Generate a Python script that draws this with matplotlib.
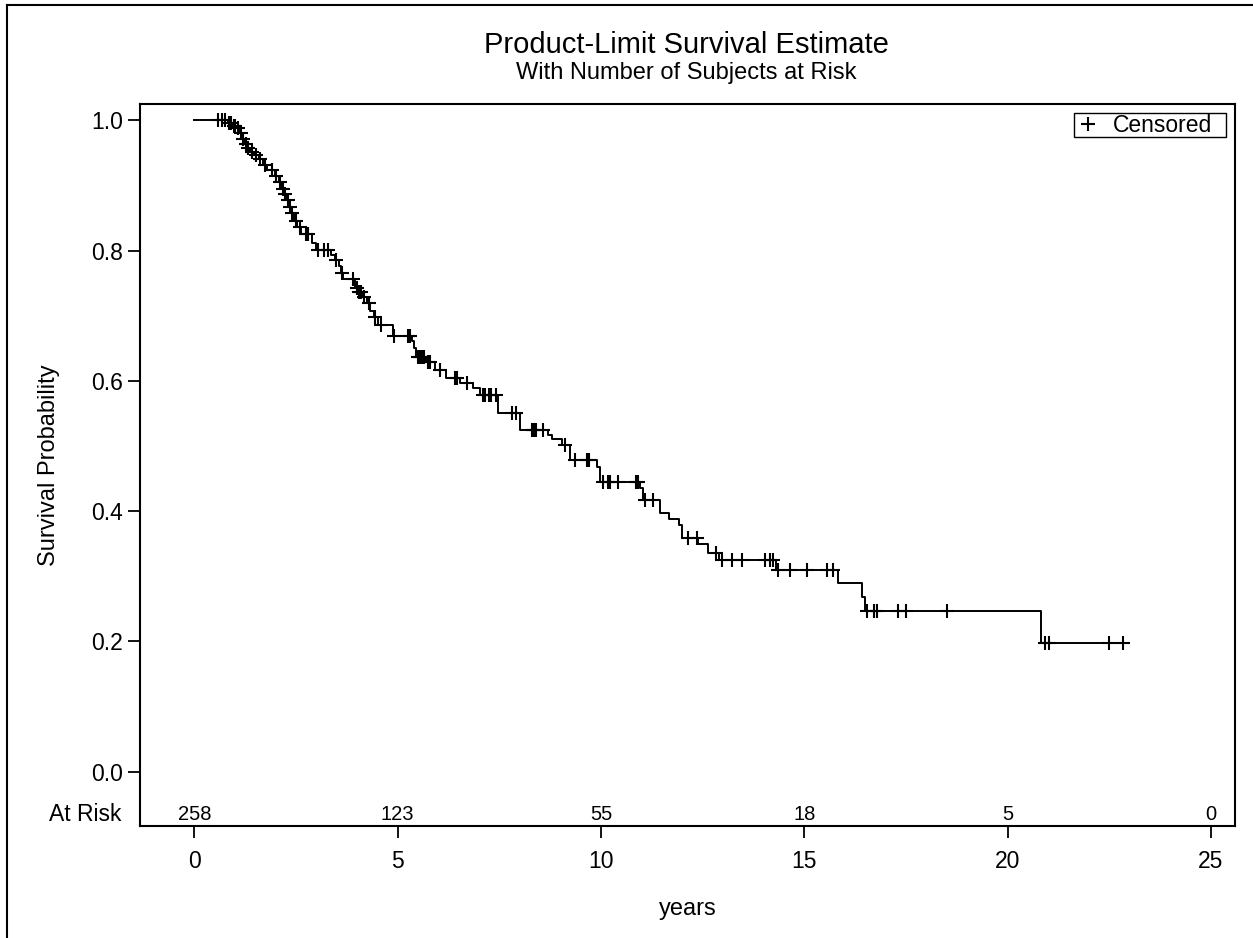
import numpy as np
import matplotlib
matplotlib.use("Agg")
import matplotlib.pyplot as plt
from matplotlib.lines import Line2D
from matplotlib.patches import Rectangle

plt.rcParams['font.family'] = ['Liberation Sans', 'DejaVu Sans']

# ---- data ----
step_times = [0.82, 0.93, 1.03, 1.12, 1.18, 1.24, 1.3, 1.38, 1.48, 1.58, 1.68, 1.8,
              1.98, 2.08, 2.14, 2.2, 2.27, 2.33, 2.38, 2.44, 2.53, 2.63, 2.9, 3.0,
              3.35, 3.45, 3.55, 3.6, 3.66, 3.95, 4.02, 4.12, 4.25, 4.32, 4.42, 4.52,
              4.88, 5.35, 5.4, 5.45, 5.7, 5.92, 6.2, 6.53, 6.86, 7.03, 7.47, 8.0,
              8.7, 8.8, 9.04, 9.24, 9.9, 9.97, 10.96, 11.04, 11.45, 11.67, 11.92,
              11.99, 12.39, 12.63, 12.9, 14.3, 15.82, 16.41, 16.5, 20.82]
step_surv = [0.996, 0.992, 0.988, 0.98, 0.972, 0.964, 0.958, 0.952, 0.946, 0.94, 0.932, 0.924,
             0.914, 0.905, 0.895, 0.887, 0.878, 0.867, 0.857, 0.846, 0.836, 0.826, 0.812, 0.801,
             0.793, 0.785, 0.776, 0.766, 0.756, 0.743, 0.736, 0.728, 0.719, 0.708, 0.698, 0.686,
             0.669, 0.661, 0.651, 0.637, 0.629, 0.617, 0.604, 0.596, 0.589, 0.578, 0.55, 0.525,
             0.517, 0.51, 0.501, 0.478, 0.468, 0.445, 0.435, 0.417, 0.397, 0.388, 0.379,
             0.358, 0.35, 0.336, 0.325, 0.31, 0.29, 0.268, 0.247, 0.198]
censor_times = [0.58, 0.68, 0.76, 0.86, 0.9, 0.97, 1.0, 1.08, 1.15, 1.2, 1.27, 1.33, 1.42,
                1.52, 1.62, 1.75, 1.9, 2.02, 2.1, 2.17, 2.24, 2.3, 2.36, 2.41, 2.5, 2.6,
                2.75, 2.8, 3.05, 3.2, 3.3, 3.48, 3.62, 3.9, 4.0, 4.05, 4.1, 4.18, 4.3,
                4.45, 4.6, 4.92, 5.25, 5.3, 5.5, 5.55, 5.6, 5.65, 5.75, 5.8, 6.05, 6.4,
                6.45, 6.7, 7.1, 7.15, 7.25, 7.3, 7.42, 7.8, 7.9, 8.3, 8.35, 8.4, 8.57,
                9.12, 9.36, 9.66, 9.7, 10.06, 10.18, 10.22, 10.42, 10.86, 10.9, 11.08,
                11.28, 12.14, 12.36, 12.83, 12.97, 13.22, 13.47, 14.03, 14.15, 14.23,
                14.35, 14.65, 15.06, 15.55, 15.7, 16.53, 16.72, 16.78, 17.31, 17.5,
                18.51, 20.92, 21.01, 22.5, 22.84]
risk_times = [0, 5, 10, 15, 20, 25]
risk_counts = [258, 123, 55, 18, 5, 0]
x_ticks = [0, 5, 10, 15, 20, 25]
y_ticks = [0.0, 0.2, 0.4, 0.6, 0.8, 1.0]

# ---- figure ----
W, H = 1253, 938
fig = plt.figure(figsize=(W / 100, H / 100), dpi=100)
ax = fig.add_axes([140 / W, 1 - 826 / H, (1235 - 140) / W, (826 - 103.7) / H])

t = [0.0] + step_times + [censor_times[-1]]
s = [1.0] + step_surv + [step_surv[-1]]
ax.step(t, s, where='post', color='black', lw=1.4, zorder=3)

st = np.array(step_times)
sv = np.array([1.0] + step_surv)
cy = sv[np.searchsorted(st, censor_times, side='right')]
ax.plot(censor_times, cy, linestyle='none', marker='+', ms=10, mew=1.5,
        color='black', zorder=4, label='Censored')

ax.set_xlim(-1.335, 25.59)
ax.set_ylim(-0.0834, 1.0255)
ax.set_xticks(x_ticks)
ax.set_xticklabels([str(v) for v in x_ticks])
ax.set_yticks(y_ticks)
ax.set_yticklabels([f"{v:.1f}" for v in y_ticks])
ax.tick_params(axis='both', direction='out', length=8.5, width=1.3, labelsize=16.5, color='black')
ax.tick_params(axis='x', pad=9)
ax.tick_params(axis='y', pad=4)
for sp in ax.spines.values():
    sp.set_linewidth(1.5)
    sp.set_color('black')

for rt, rc in zip(risk_times, risk_counts):
    ax.text(rt, -0.066, str(rc), ha='center', va='center', fontsize=14.5)
ax.text(-0.017, -0.066, 'At Risk', transform=ax.get_yaxis_transform(), ha='right',
        va='center', fontsize=16.5)

ax.set_xlabel('years', fontsize=17, labelpad=18)
ax.set_ylabel('Survival Probability', fontsize=17, labelpad=22)

# legend (entries by matplotlib, frame drawn as a rectangle to match the tight box)
leg = ax.legend(loc='center left', bbox_to_anchor=(1081 / W, 1 - 125.5 / H),
                bbox_transform=fig.transFigure, frameon=False, fontsize=16.5,
                handlelength=0.6, handletextpad=0.79, borderpad=0, borderaxespad=0)
fig.add_artist(Rectangle((1074 / W, 1 - 137 / H), (1226 - 1074) / W, 24 / H,
                         transform=fig.transFigure, fill=False, edgecolor='black',
                         lw=1.0, zorder=10))

fig.text(686 / W, 1 - 45 / H, 'Product-Limit Survival Estimate', ha='center', va='center',
         fontsize=21)
fig.text(686 / W, 1 - 73 / H, 'With Number of Subjects at Risk', ha='center', va='center',
         fontsize=17)

# outer border
fig.add_artist(Line2D([7 / W, 7 / W], [0, 1 - 5 / H], transform=fig.transFigure,
                      color='black', lw=1.5))
fig.add_artist(Line2D([7 / W, 1.0], [1 - 5 / H, 1 - 5 / H], transform=fig.transFigure,
                      color='black', lw=1.5))

fig.savefig('out.png', dpi=100)
